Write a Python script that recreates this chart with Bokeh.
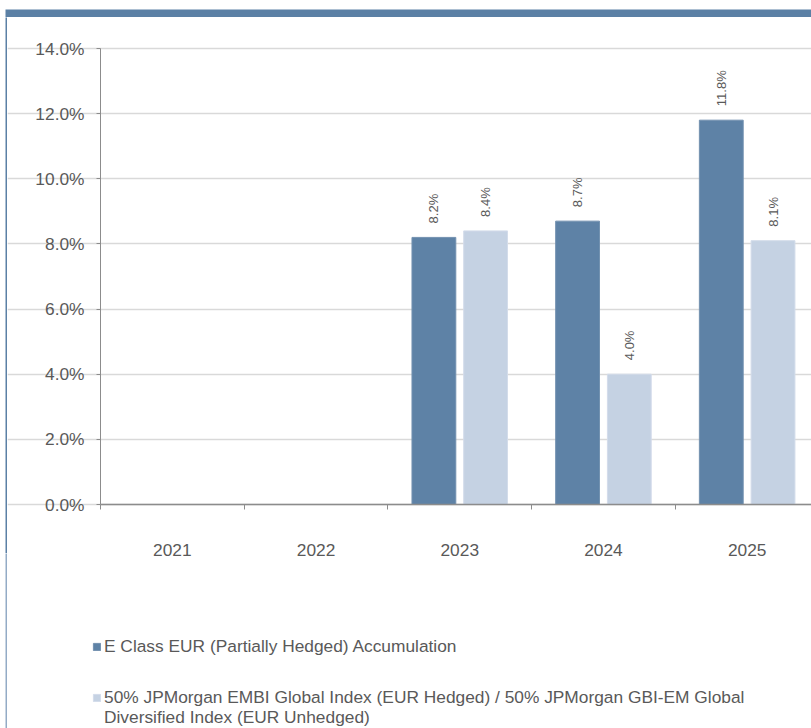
import math
from bokeh.plotting import figure
from bokeh.layouts import column, row
from bokeh.models import (ColumnDataSource, Range1d, FixedTicker, PrintfTickFormatter,
                          Legend, LegendItem)
from bokeh.transform import dodge
from bokeh.embed import file_html
from bokeh.resources import INLINE

years = ["2021", "2022", "2023", "2024", "2025"]
fund = [float("nan"), float("nan"), 8.2, 8.7, 11.8]
bench = [float("nan"), float("nan"), 8.4, 4.0, 8.1]
fund_label = "E Class EUR (Partially Hedged) Accumulation"
bench_label_lines = ["50% JPMorgan EMBI Global Index (EUR Hedged) / 50% JPMorgan GBI-EM Global",
                     "Diversified Index (EUR Unhedged)"]
y_ticks = [0, 2, 4, 6, 8, 10, 12, 14]

DARK = "#5e82a6"
LIGHT = "#c5d2e3"
BAND = "#5b80a5"
TXT = "#595959"
AX = "#8c8c8c"
FONT = "Liberation Sans"
FS = "17.33px"

def fmt(v):
    return "" if math.isnan(v) else f"{v:.1f}%"

src = ColumnDataSource(dict(
    xc=[i + 0.5 for i in range(len(years))],
    fund=fund, bench=bench,
    fund_txt=[fmt(v) for v in fund],
    bench_txt=[fmt(v) for v in bench],
))

def deco(w, h, color):
    f = figure(width=w, height=h, x_axis_type=None, y_axis_type=None,
               toolbar_location=None, output_backend="svg", min_border=0)
    f.background_fill_color = color
    f.border_fill_color = color
    f.outline_line_color = None
    f.grid.visible = False
    return f

top_pad = deco(811, 7, "white")
band_row = row(deco(5, 10, "white"), deco(806, 10, BAND))
left_pad = deco(5, 711, "white")
left_dark = deco(2, 536, BAND)
left_light = deco(2, 175, "#93abc6")

# layout geometry (pixels): the frame fills the whole figure; axes are pinned at 0
MAIN_W, MAIN_H = 804, 711
CAT_PX = 143.7           # width of one year band
AXIS_X_PX = 93           # y-axis position from the figure's left edge
ZERO_Y_PX = 487          # y=0 from the figure's top edge
TOP_Y_PX = 31            # y=14 from the figure's top edge
ymax = y_ticks[-1]
px_per_unit = (ZERO_Y_PX - TOP_Y_PX) / ymax
x_range = Range1d(-AXIS_X_PX / CAT_PX, (MAIN_W - AXIS_X_PX) / CAT_PX)
y_range = Range1d(-(MAIN_H - ZERO_Y_PX) / px_per_unit, ymax + TOP_Y_PX / px_per_unit)

p = figure(width=MAIN_W, height=MAIN_H, x_range=x_range, y_range=y_range,
           toolbar_location=None, output_backend="svg", min_border=0)
p.outline_line_color = None
p.background_fill_color = "white"
p.border_fill_color = "white"

BAR_W = 0.305
OFF = 0.18
r1 = p.vbar(x=dodge("xc", -OFF, range=p.x_range), top="fund", width=BAR_W, bottom=0,
            source=src, fill_color=DARK, line_color="#7391b0", line_width=1)
r2 = p.vbar(x=dodge("xc", OFF, range=p.x_range), top="bench", width=BAR_W, bottom=0,
            source=src, fill_color=LIGHT, line_color="#d3dcea", line_width=1)

for col, txt, off in (("fund", "fund_txt", -OFF), ("bench", "bench_txt", OFF)):
    p.text(x=dodge("xc", off, range=p.x_range), y=col, text=txt, source=src,
           angle=math.pi / 2, text_align="left", text_baseline="middle",
           y_offset=-14, text_font_size="13px", text_color=TXT,
           text_font={"value": FONT})

# axes pinned at zero
p.xaxis.fixed_location = 0
p.xaxis.bounds = (0, len(years))
p.xaxis.ticker = FixedTicker(ticks=[i + 0.5 for i in range(len(years))],
                             minor_ticks=list(range(len(years) + 1)))
p.xaxis.major_label_overrides = {i + 0.5: y for i, y in enumerate(years)}
p.xaxis.major_tick_line_color = None
p.xaxis.major_tick_out = 0
p.xaxis.major_tick_in = 0
p.xaxis.minor_tick_out = 5
p.xaxis.minor_tick_in = 0
p.xaxis.minor_tick_line_color = AX
p.xaxis.axis_line_color = AX
p.xaxis.axis_line_width = 1.5
p.xaxis.major_label_standoff = 34

p.yaxis.fixed_location = 0
p.yaxis.bounds = (0, ymax)
p.yaxis.ticker = FixedTicker(ticks=y_ticks, minor_ticks=[])
p.yaxis.formatter = PrintfTickFormatter(format="%.1f%%")
p.yaxis.major_tick_out = 4
p.yaxis.major_tick_in = 0
p.yaxis.major_tick_line_color = AX
p.yaxis.axis_line_color = AX
p.yaxis.major_label_standoff = 12

for ax in (p.xaxis, p.yaxis):
    ax.major_label_text_font_size = FS
    ax.major_label_text_color = TXT
    ax.major_label_text_font = FONT

p.xgrid.visible = False
p.ygrid.ticker = FixedTicker(ticks=y_ticks)
p.ygrid.bounds = (0, len(years))
p.ygrid.grid_line_color = "#d9d9d9"
p.ygrid.grid_line_width = 1.5

def make_legend(label, renderers, loc):
    lg = Legend(items=[LegendItem(label=label, renderers=renderers)], location=loc,
                glyph_width=9, glyph_height=9, label_standoff=3, padding=0, margin=0,
                spacing=0, label_height=20,
                border_line_alpha=0, background_fill_alpha=0,
                label_text_font_size=FS, label_text_color=TXT, label_text_font=FONT)
    p.add_layout(lg, "center")

make_legend(fund_label, [r1], (85, 71))
make_legend(bench_label_lines[0], [r2], (85, 20))
make_legend(bench_label_lines[1], [], (85, 0))

layout = column(top_pad, band_row,
                row(left_pad, column(left_dark, left_light), p))

open("out.html", "w").write(file_html(layout, INLINE))
